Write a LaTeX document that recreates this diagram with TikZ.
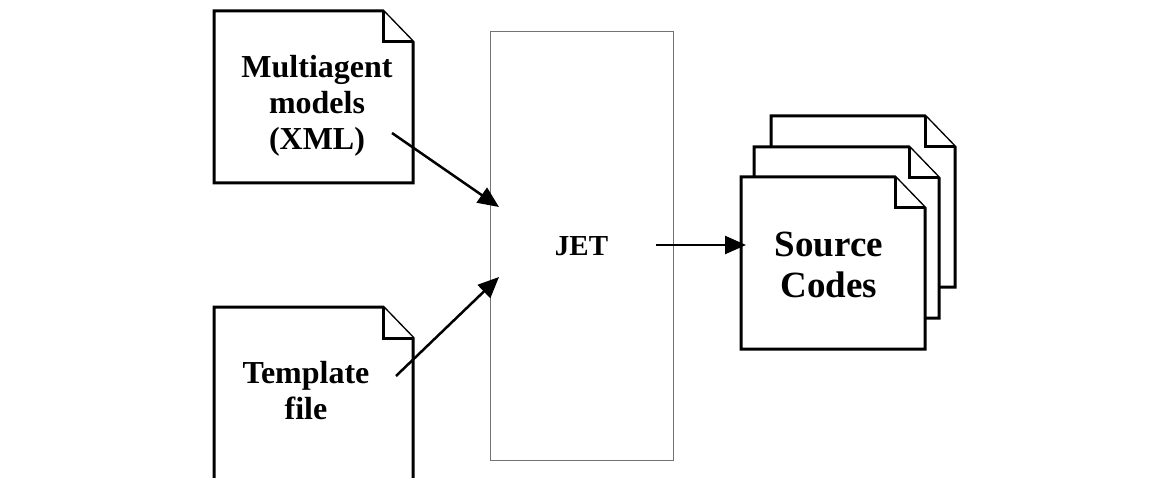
\documentclass[tikz,border=0pt]{standalone}
\usepackage{fontspec}
\setmainfont{Liberation Serif}
\usetikzlibrary{arrows.meta}

\tikzset{
  page/.style={draw, line width=3pt, fill=white, line join=miter},
  jetbox/.style={draw=black!55, line width=1pt, minimum width=183pt, minimum height=428pt},
  flow/.style={-{Triangle[length=21pt, width=18pt]}, line width=2.5pt},
  doclabel/.style={font=\bfseries\fontsize{32}{36}\selectfont, align=center}
}

% sheet with a folded corner: left, top, right, bottom
\newcommand{\docsheet}[4]{%
  \draw[page] (#1,#2) -- (#3-30,#2) -- (#3,#2+31) -- (#3,#4) -- (#1,#4) -- cycle;
  \draw[page] (#3-30,#2) -- (#3-30,#2+31) -- (#3,#2+31);
}

\begin{document}
\begin{tikzpicture}[x=1pt, y=-1pt]
  \useasboundingbox (0,0) rectangle (1150,478);
  \clip (0,0) rectangle (1150,478);

  % inputs
  \docsheet{214}{11}{413}{183}
  \node[doclabel] (models) at (317,106) {Multiagent\\models\\(XML)};

  \draw[page] (214,490) -- (214,307) -- (383,307) -- (413,338) -- (413,490);
  \draw[page] (383,307) -- (383,338) -- (413,338);
  \node[doclabel] (template) at (306,391) {Template\\file};

  % generator
  \node[jetbox, font=\bfseries\fontsize{29}{34}\selectfont] (jet) at (581.5,246) {JET};

  % outputs
  \docsheet{771}{116}{955}{287}
  \docsheet{754}{147}{939}{318}
  \docsheet{741}{177}{925}{349}
  \node[font=\bfseries\fontsize{37}{41}\selectfont, align=center] (source) at (829,265) {Source\\Codes};

  \coordinate (models-out) at (392,133);
  \coordinate (jet-in1) at (499,207);
  \coordinate (template-out) at (396,376);
  \coordinate (jet-in2) at (499,277);
  \coordinate (jet-out) at (656,245);
  \coordinate (source-in) at (746,245);

  \draw[flow] (models-out) -- (jet-in1);
  \draw[flow] (template-out) -- (jet-in2);
  \draw[flow] (jet-out) -- (source-in);
\end{tikzpicture}
\end{document}
